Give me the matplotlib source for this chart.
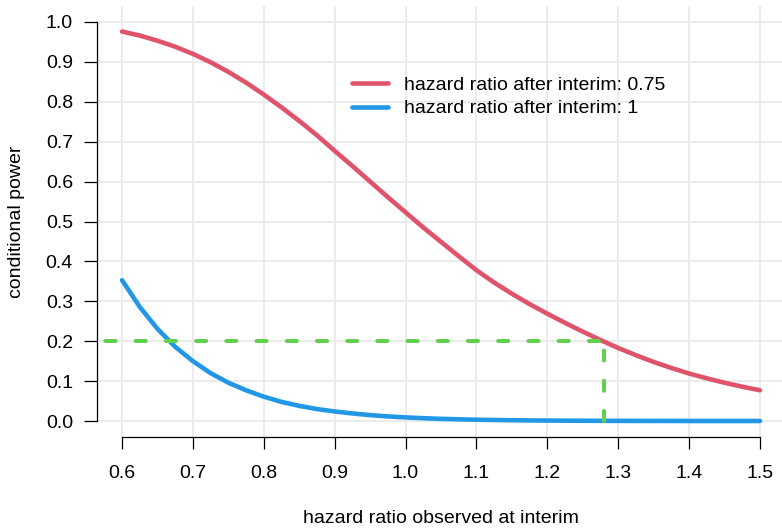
import matplotlib
matplotlib.use("Agg")
from matplotlib import pyplot as plt

plt.rcParams['font.family'] = ['Liberation Sans', 'DejaVu Sans']

# hazard ratio observed at interim
hr = [0.600, 0.625, 0.650, 0.675, 0.700, 0.725, 0.750, 0.775, 0.800, 0.825,
      0.850, 0.875, 0.900, 0.925, 0.950, 0.975, 1.000, 1.025, 1.050, 1.075,
      1.100, 1.125, 1.150, 1.175, 1.200, 1.225, 1.250, 1.275, 1.300, 1.325,
      1.350, 1.375, 1.400, 1.425, 1.450, 1.475, 1.500]

# conditional power, hazard ratio after interim 0.75
power_075 = [0.976, 0.966, 0.953, 0.938, 0.920, 0.899, 0.875, 0.848, 0.818, 0.786,
             0.752, 0.716, 0.677, 0.639, 0.600, 0.561, 0.523, 0.485, 0.449, 0.413,
             0.378, 0.347, 0.319, 0.293, 0.269, 0.246, 0.224, 0.203, 0.183, 0.165,
             0.148, 0.133, 0.119, 0.107, 0.096, 0.086, 0.077]

# conditional power, hazard ratio after interim 1
power_1 = [0.353, 0.286, 0.231, 0.186, 0.150, 0.120, 0.096, 0.077, 0.061, 0.048,
           0.038, 0.030, 0.024, 0.019, 0.0148, 0.0116, 0.0091, 0.0071, 0.0055, 0.0043,
           0.0033, 0.0026, 0.0020, 0.0015, 0.0012, 0.0009, 0.0007, 0.0005, 0.0004, 0.0003,
           0.0002, 0.0002, 0.0001, 0.0001, 0.0001, 0.0001, 0.0001]

labels = ["hazard ratio after interim: 0.75", "hazard ratio after interim: 1"]
target_power = 0.2
hr_cutoff = 1.28

x_ticks = [0.6, 0.7, 0.8, 0.9, 1.0, 1.1, 1.2, 1.3, 1.4, 1.5]
y_ticks = [0.0, 0.1, 0.2, 0.3, 0.4, 0.5, 0.6, 0.7, 0.8, 0.9, 1.0]

W, H = 782, 528
fig = plt.figure(figsize=(W / 100, H / 100), dpi=100)
ax = fig.add_axes([96.5 / W, 91 / H, 689 / W, 431 / H])

xpad = 0.04 * (x_ticks[-1] - x_ticks[0])
ax.set_xlim(x_ticks[0] - xpad, x_ticks[-1] + xpad)
ax.set_ylim(-0.04, 1.04)

fs = 14
ax.set_xticks(x_ticks)
ax.set_xticklabels([f"{v:.1f}" for v in x_ticks], fontsize=fs)
ax.set_yticks(y_ticks)
ax.set_yticklabels([f"{v:.1f}" for v in y_ticks], fontsize=fs)
ax.tick_params(axis='y', length=9.5, width=0.9, pad=7.5)
ax.tick_params(axis='x', length=8.5, width=0.9, pad=12)

for s in ['top', 'right']:
    ax.spines[s].set_visible(False)
ax.spines['left'].set_bounds(y_ticks[0], y_ticks[-1])
ax.spines['bottom'].set_bounds(x_ticks[0], x_ticks[-1])
for s in ['left', 'bottom']:
    ax.spines[s].set_linewidth(0.9)

ax.grid(True, color='#EBEBEB', linewidth=1.4)
ax.set_axisbelow(True)

ax.plot(hr, power_075, color='#DF536B', lw=3.3, solid_capstyle='round',
        solid_joinstyle='round', label=labels[0])
ax.plot(hr, power_1, color='#2297E6', lw=3.3, solid_capstyle='round',
        solid_joinstyle='round', label=labels[1])

# target conditional power reference lines
left = ax.get_xlim()[0]
ax.plot([left, hr_cutoff], [target_power, target_power], color='#61D04F', lw=2.9,
        linestyle=(5.4, (2.5, 5)), dash_capstyle='round')
ax.plot([hr_cutoff, hr_cutoff], [0, target_power], color='#61D04F', lw=2.9,
        linestyle=(0, (2.5, 5)), dash_capstyle='round')

ax.legend(loc='upper left', bbox_to_anchor=(352 / W, (H - 76) / H),
          bbox_transform=fig.transFigure, frameon=False, fontsize=fs,
          handlelength=1.85, handletextpad=0.85, labelspacing=0.32,
          borderpad=0, borderaxespad=0)

fig.text(441 / W, (H - 523) / H, "hazard ratio observed at interim",
         ha='center', va='baseline', fontsize=fs)
fig.text(16.5 / W, (H - 221.5) / H, "conditional power", rotation=90,
         ha='center', va='center', fontsize=fs)

plt.savefig("out.png", dpi=100)
